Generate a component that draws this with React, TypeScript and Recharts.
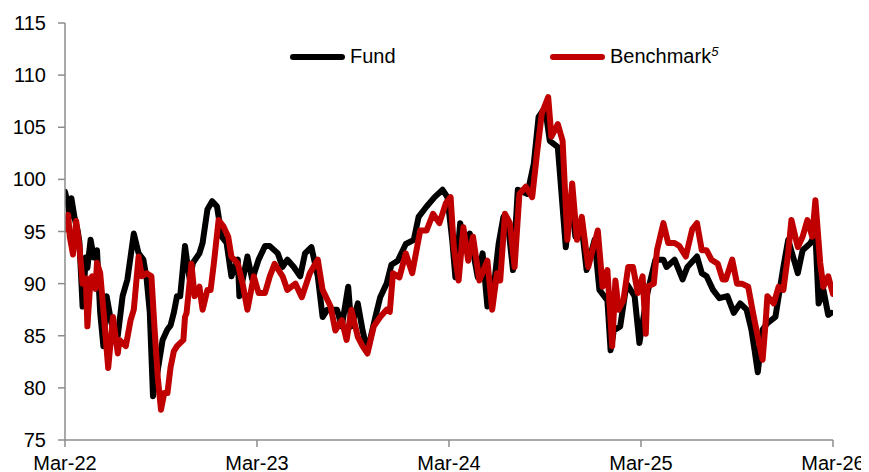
import React from "react";
import { LineChart, Line, XAxis, YAxis } from "recharts";

// months since Mar-22
const fundMonths = [
  0, 0.2, 0.3, 0.4, 0.6, 0.8, 0.9, 1.1, 1.3, 1.4, 1.6, 1.8, 2.0, 2.2, 2.4, 2.6, 2.9, 3.3, 3.6, 3.9,
  4.3, 4.6, 4.9, 5.1, 5.3, 5.5, 5.8, 6.1, 6.4, 6.6, 6.8, 7.0, 7.2, 7.5, 7.7, 7.8, 8.0, 8.4, 8.6, 8.9,
  9.2, 9.5, 9.8, 10.1, 10.4, 10.8, 10.9, 11.4, 11.7, 12.1, 12.5, 12.8, 13.3, 13.6, 13.9, 14.3, 14.7, 15.0, 15.4, 15.8,
  16.1, 16.4, 17.0, 17.3, 17.7, 17.9, 18.3, 18.6, 18.9, 19.4, 19.7, 20.1, 20.4, 20.8, 21.3, 21.8, 22.1, 22.6, 23.1, 23.6,
  23.9, 24.2, 24.4, 24.7, 25.0, 25.3, 25.8, 26.1, 26.4, 26.8, 27.1, 27.4, 27.7, 28.0, 28.3, 28.9, 29.3, 29.6, 30.0, 30.3,
  30.8, 30.9, 31.3, 31.6, 31.9, 32.3, 32.6, 33.1, 33.4, 33.9, 34.1, 34.3, 34.7, 35.1, 35.6, 35.9, 36.4, 36.9, 37.4, 37.6,
  38.1, 38.6, 38.9, 39.5, 39.8, 40.1, 40.5, 40.9, 41.4, 41.8, 42.2, 42.6, 42.9, 43.1, 43.3, 43.6, 43.9, 44.4, 44.7, 44.9,
  45.2, 45.5, 45.8, 46.1, 46.6, 46.9, 47.1, 47.4, 47.7, 47.9,
];
const fundValues = [
  98.8, 97.5, 96.4, 98.2, 96.3, 95.0, 94.0, 87.8, 92.5, 91.5, 94.2, 92.5, 93.2, 87.2, 84.0, 88.8, 86.2, 85.0, 88.8, 90.4,
  94.8, 92.9, 92.3, 90.5, 87.2, 79.2, 81.7, 84.6, 85.6, 86.0, 87.2, 88.8, 88.8, 93.6, 91.3, 90.4, 92.0, 92.9, 93.9, 97.1,
  97.9, 97.4, 94.5, 93.9, 90.7, 92.3, 88.8, 92.6, 90.4, 92.3, 93.6, 93.6, 92.9, 91.6, 92.3, 91.6, 90.7, 92.9, 93.5, 90.7,
  86.8, 87.5, 87.5, 85.9, 89.7, 85.9, 88.1, 85.5, 83.5, 86.8, 88.7, 90.0, 91.8, 92.2, 93.8, 94.2, 96.4, 97.4, 98.3, 99.0,
  98.3, 94.2, 90.6, 95.8, 93.5, 94.8, 90.6, 92.9, 87.8, 89.7, 93.8, 96.4, 95.5, 91.3, 99.0, 98.6, 101.5, 106.0, 106.9, 103.7,
  103.1, 101.2, 93.5, 98.3, 94.5, 95.4, 91.3, 94.2, 89.4, 88.4, 83.6, 85.5, 85.9, 90.0, 88.8, 84.3, 89.1, 92.3, 92.3, 91.6,
  92.3, 90.4, 91.6, 92.6, 91.0, 90.7, 89.4, 88.6, 88.8, 87.2, 88.1, 87.5, 85.6, 83.6, 81.5, 85.6, 86.2, 86.8, 89.7, 91.6,
  94.2, 92.6, 91.0, 93.2, 93.9, 94.8, 88.1, 89.4, 87.0, 87.2,
];

const benchMonths = [
  0, 0.2, 0.3, 0.5, 0.7, 0.9, 1.1, 1.3, 1.4, 1.6, 1.7, 1.9, 2.0, 2.2, 2.4, 2.7, 3.0, 3.3, 3.4, 3.8,
  4.1, 4.3, 4.6, 4.8, 5.1, 5.4, 5.6, 5.8, 6.0, 6.2, 6.4, 6.6, 6.8, 7.0, 7.4, 7.5, 7.6, 7.9, 8.1, 8.4,
  8.6, 8.9, 9.1, 9.3, 9.6, 9.9, 10.2, 10.4, 10.8, 11.1, 11.4, 11.8, 12.1, 12.5, 12.8, 13.1, 13.6, 13.9, 14.4, 14.8,
  15.3, 15.8, 16.1, 16.6, 16.9, 17.3, 17.6, 17.9, 18.3, 18.6, 18.9, 19.3, 19.7, 20.1, 20.3, 20.5, 20.9, 21.3, 21.7, 22.2,
  22.6, 23.0, 23.4, 23.8, 24.1, 24.3, 24.6, 24.9, 25.2, 25.5, 25.9, 26.4, 26.7, 27.0, 27.2, 27.5, 27.8, 28.1, 28.4, 28.8,
  29.2, 29.5, 29.8, 30.2, 30.4, 30.8, 31.1, 31.4, 31.7, 32.0, 32.3, 32.7, 33.3, 33.6, 33.9, 34.2, 34.4, 34.6, 34.9, 35.2,
  35.5, 35.8, 36.1, 36.3, 36.4, 36.8, 37.0, 37.4, 37.7, 38.1, 38.4, 38.8, 39.2, 39.5, 39.8, 40.1, 40.4, 40.8, 41.1, 41.3,
  41.7, 42.0, 42.3, 42.7, 43.0, 43.3, 43.6, 43.8, 43.9, 44.3, 44.6, 44.9, 45.2, 45.4, 45.8, 46.1, 46.4, 46.7, 46.9, 47.2,
  47.4, 47.7, 48.0,
];
const benchValues = [
  95.2, 96.6, 94.5, 92.8, 96.0, 93.6, 90.0, 90.5, 85.9, 90.5, 90.7, 89.5, 92.0, 91.0, 87.5, 81.9, 86.8, 83.3, 84.6, 84.0,
  86.5, 87.5, 92.6, 90.7, 91.0, 90.7, 85.6, 81.0, 77.9, 79.5, 79.5, 82.0, 83.5, 84.0, 84.6, 86.8, 87.2, 91.9, 88.8, 89.7,
  87.5, 89.4, 89.4, 91.9, 96.1, 95.5, 94.5, 92.6, 91.9, 90.0, 87.5, 90.7, 89.1, 89.1, 90.7, 91.9, 90.7, 89.4, 90.0, 88.7,
  91.0, 92.3, 89.4, 87.8, 85.5, 86.5, 84.6, 87.5, 84.9, 84.0, 83.3, 85.9, 86.8, 87.5, 87.3, 91.0, 90.6, 92.9, 91.0, 95.1,
  95.1, 96.7, 95.8, 97.7, 98.3, 93.5, 90.3, 95.4, 92.2, 94.5, 90.3, 92.2, 87.5, 91.0, 90.3, 96.7, 95.8, 91.6, 98.6, 99.3,
  98.3, 102.5, 106.3, 107.9, 104.1, 105.3, 103.7, 94.2, 99.6, 94.2, 96.4, 91.6, 95.1, 89.7, 91.3, 84.0, 90.3, 87.5, 88.4, 91.6,
  91.6, 89.1, 90.7, 85.2, 89.7, 90.0, 93.2, 95.8, 93.9, 93.9, 93.6, 92.6, 95.2, 95.8, 93.2, 93.2, 92.3, 91.9, 90.4, 90.4,
  92.3, 90.0, 90.0, 89.7, 87.2, 84.9, 82.7, 86.5, 88.8, 88.1, 89.7, 89.4, 92.9, 96.1, 93.5, 94.5, 96.1, 94.5, 98.0, 92.0,
  89.7, 90.7, 89.0,
];

const xTicks = [0, 12, 24, 36, 48];
const xTickLabels = ["Mar-22", "Mar-23", "Mar-24", "Mar-25", "Mar-26"];
const yTicks = [75, 80, 85, 90, 95, 100, 105, 110, 115];

const fundData = fundMonths.map((m, i) => ({ m, v: fundValues[i] }));
const benchData = benchMonths.map((m, i) => ({ m, v: benchValues[i] }));

const FONT = "'Liberation Sans', Arial, sans-serif";
const AXIS = "#8c8c8c";

function LegendItem({ color, label, sup }: { color: string; label: string; sup?: string }) {
  return (
    <div style={{ display: "flex", alignItems: "center" }}>
      <span
        style={{
          display: "inline-block",
          width: 55,
          height: 6,
          borderRadius: 3,
          background: color,
          marginRight: 5,
        }}
      />
      <span>
        {label}
        {sup && (
          <sup style={{ fontStyle: "italic", fontSize: 13, verticalAlign: "top", lineHeight: 1 }}>
            {sup}
          </sup>
        )}
      </span>
    </div>
  );
}

export default function App() {
  return (
    <div style={{ margin: "-8px 0 0 -8px", position: "relative", width: 869, height: 472, background: "#fff" }}>
      <LineChart
        width={869}
        height={472}
        margin={{ top: 23, right: 36, bottom: 2, left: 5 }}
      >
        <XAxis
          type="number"
          dataKey="m"
          domain={[0, 48]}
          ticks={xTicks}
          tickFormatter={(v) => xTickLabels[xTicks.indexOf(v)] ?? ""}
          stroke={AXIS}
          strokeWidth={1.5}
          tickSize={7}
          tickMargin={9}
          interval={0}
          tick={{ fill: "#000", fontSize: 20, fontFamily: FONT }}
          allowDataOverflow
        />
        <YAxis
          type="number"
          domain={[75, 115]}
          ticks={yTicks}
          width={60}
          stroke={AXIS}
          strokeWidth={1.5}
          tickSize={7}
          tickMargin={12}
          interval={0}
          tick={{ fill: "#000", fontSize: 20, fontFamily: FONT }}
          allowDataOverflow
        />
        <Line
          data={fundData}
          dataKey="v"
          name="Fund"
          stroke="#000000"
          strokeWidth={6}
          dot={false}
          strokeLinejoin="round"
          strokeLinecap="round"
          isAnimationActive={false}
        />
        <Line
          data={benchData}
          dataKey="v"
          name="Benchmark"
          stroke="#c00000"
          strokeWidth={6}
          dot={false}
          strokeLinejoin="round"
          strokeLinecap="round"
          isAnimationActive={false}
        />
      </LineChart>
      <div
        style={{
          position: "absolute",
          left: 290,
          top: 45,
          display: "flex",
          fontFamily: FONT,
          fontSize: 20,
          color: "#000",
        }}
      >
        <div style={{ width: 260 }}>
          <LegendItem color="#000000" label="Fund" />
        </div>
        <LegendItem color="#c00000" label="Benchmark" sup="5" />
      </div>
    </div>
  );
}
